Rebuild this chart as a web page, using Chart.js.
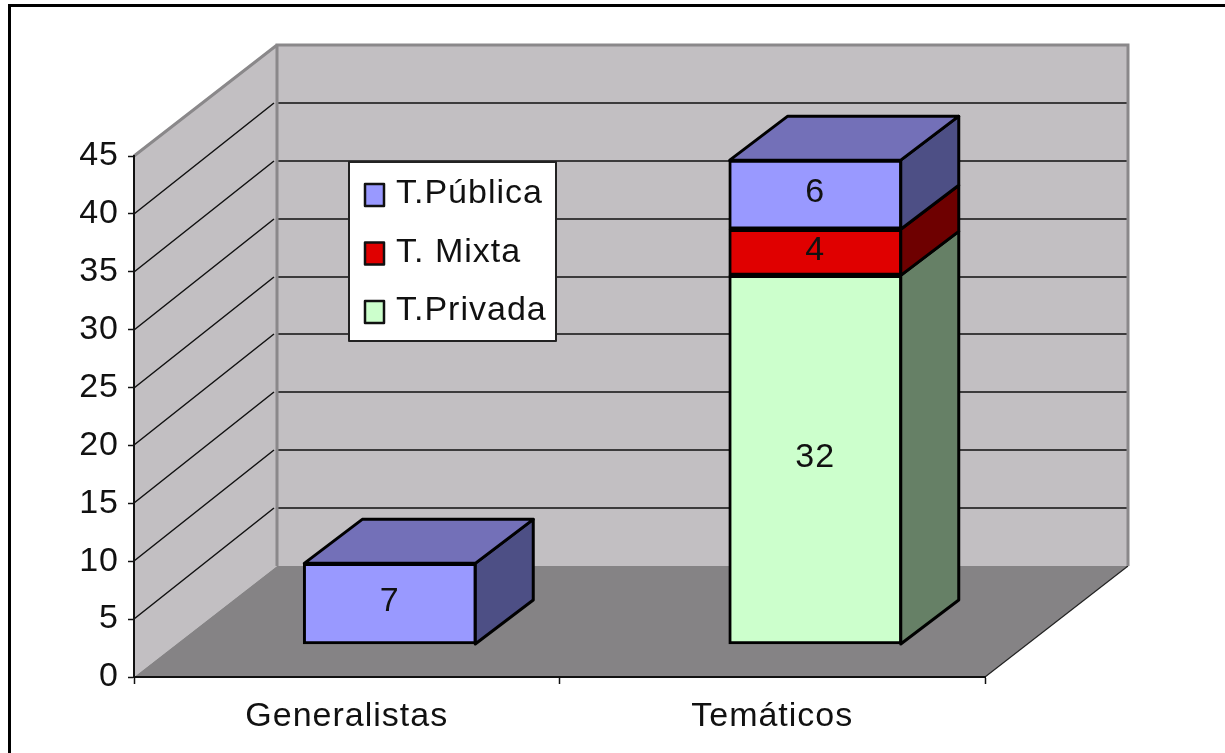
<!DOCTYPE html>
<html>
<head>
<meta charset="utf-8">
<style>
  html, body { margin: 0; padding: 0; background: #fff; }
  canvas { display: block; }
</style>
<script src="https://cdn.jsdelivr.net/npm/chart.js@4/dist/chart.umd.min.js"></script>
</head>
<body>
<canvas id="chart" width="1225" height="753"></canvas>
<script>
"use strict";

const categories = ['Generalistas', 'Temáticos'];
const privada = [0, 32];
const mixta = [0, 4];
const publica = [7, 6];

const FONT = "'Liberation Sans', Arial, sans-serif";
const TEXT = '#111';

// Depth of the fake 3D box and of the bars inside it
const WALL = { dx: 143, dy: -111 };
const BAR = { dx: 58, dy: -44 };

const sideColors = ['#668066', '#6e0000', '#4d4f85'];
const topColors = ['#8fb38f', '#a00000', '#7370b8'];

function poly(ctx, pts, fill, stroke, lw) {
  ctx.beginPath();
  pts.forEach((p, i) => (i ? ctx.lineTo(p[0], p[1]) : ctx.moveTo(p[0], p[1])));
  ctx.closePath();
  if (fill) {
    ctx.fillStyle = fill;
    ctx.fill();
  }
  if (stroke) {
    ctx.strokeStyle = stroke;
    ctx.lineWidth = lw;
    ctx.lineJoin = 'round';
    ctx.stroke();
  }
}

const box3d = {
  id: 'box3d',

  // Walls, floor, gridlines and the outer frame
  beforeDraw(chart) {
    const { ctx, chartArea: a, scales } = chart;
    const { dx, dy } = WALL;
    ctx.letterSpacing = '1px';

    ctx.save();
    ctx.fillStyle = '#000';
    ctx.fillRect(8, 4, chart.width - 8, 3);
    ctx.fillRect(8, 4, 3, chart.height - 4);

    poly(ctx, [[a.left, a.top], [a.left + dx, a.top + dy], [a.left + dx, a.bottom + dy], [a.left, a.bottom]], '#c2bfc2');
    poly(ctx, [[a.left + dx, a.top + dy], [a.right + dx, a.top + dy], [a.right + dx, a.bottom + dy], [a.left + dx, a.bottom + dy]], '#c2bfc2');

    ctx.strokeStyle = '#111';
    ctx.lineWidth = 1.5;
    scales.y.ticks.forEach(t => {
      if (t.value === 0 || t.value === 45) return;
      const y = Math.round(scales.y.getPixelForValue(t.value));
      ctx.beginPath();
      ctx.moveTo(a.left, y);
      ctx.lineTo(a.left + dx - 3, y + dy);
      ctx.moveTo(a.left + dx, y + dy);
      ctx.lineTo(a.right + dx, y + dy);
      ctx.stroke();
    });

    poly(ctx, [[a.left, a.bottom], [a.left + dx, a.bottom + dy], [a.right + dx, a.bottom + dy], [a.right, a.bottom]], '#858385');
    ctx.strokeStyle = '#222';
    ctx.lineWidth = 1.2;
    ctx.beginPath();
    ctx.moveTo(a.right, a.bottom);
    ctx.lineTo(a.right + dx, a.bottom + dy);
    ctx.stroke();

    ctx.strokeStyle = '#8a888a';
    ctx.lineWidth = 3;
    ctx.beginPath();
    ctx.moveTo(a.left + dx, a.bottom + dy);
    ctx.lineTo(a.left + dx, a.top + dy);
    ctx.lineTo(a.right + dx, a.top + dy);
    ctx.lineTo(a.right + dx, a.bottom + dy);
    ctx.moveTo(a.left, a.top);
    ctx.lineTo(a.left + dx, a.top + dy);
    ctx.stroke();
    ctx.restore();
  },

  // Side and top faces of the bars, taken from the bar elements
  beforeDatasetsDraw(chart) {
    const { ctx } = chart;
    const { dx, dy } = BAR;
    ctx.save();
    categories.forEach((c, j) => {
      let topIdx = -1;
      chart.data.datasets.forEach((ds, i) => {
        if (!ds.data[j].y) return;
        const el = chart.getDatasetMeta(i).data[j];
        const r = el.x + el.width / 2 - 1;
        poly(ctx, [[r, el.base], [r + dx, el.base + dy], [r + dx, el.y + dy], [r, el.y]], sideColors[i], '#000', 3);
        topIdx = i;
      });
      if (topIdx < 0) return;
      const el = chart.getDatasetMeta(topIdx).data[j];
      const l = el.x - el.width / 2 + 1;
      const r = el.x + el.width / 2 - 1;
      poly(ctx, [[l, el.y], [l + dx, el.y + dy], [r + dx, el.y + dy], [r, el.y]], topColors[topIdx], '#000', 3);
    });
    ctx.restore();
  },

  // Value labels and the legend box
  afterDatasetsDraw(chart) {
    const { ctx } = chart;
    ctx.save();
    ctx.font = '34px ' + FONT;
    ctx.fillStyle = TEXT;
    ctx.textAlign = 'center';
    ctx.textBaseline = 'middle';
    chart.data.datasets.forEach((ds, i) => {
      ds.data.forEach((d, j) => {
        if (!d.y) return;
        const el = chart.getDatasetMeta(i).data[j];
        ctx.fillText(String(d.y), el.x, (el.y + el.base) / 2 - 2);
      });
    });

    poly(ctx, [[349, 162], [556, 162], [556, 341], [349, 341]], '#fff', '#222', 2);
    ctx.textAlign = 'left';
    ctx.textBaseline = 'alphabetic';
    const order = [2, 1, 0];
    order.forEach((i, row) => {
      const ds = chart.data.datasets[i];
      const top = 184 + row * 58.5;
      poly(ctx, [[365, top], [384, top], [384, top + 22], [365, top + 22]], ds.backgroundColor, '#111', 2.5);
      ctx.fillStyle = TEXT;
      ctx.fillText(ds.label, 396, top + 19);
    });
    ctx.restore();
  },
};

const toPoints = values => values.map((v, i) => ({ x: i, y: v }));

const barDataset = (label, values, color) => ({
  label,
  data: toPoints(values),
  backgroundColor: color,
  borderColor: '#000',
  borderWidth: 3,
  borderSkipped: false,
  barThickness: 173,
  xAxisID: 'xBar',
  yAxisID: 'yBar',
});

new Chart(document.getElementById('chart').getContext('2d'), {
  type: 'bar',
  data: {
    labels: categories,
    datasets: [
      barDataset('T.Privada', privada, '#ccffcc'),
      barDataset('T. Mixta', mixta, '#e00000'),
      barDataset('T.Pública', publica, '#9999ff'),
    ],
  },
  plugins: [box3d],
  options: {
    responsive: false,
    animation: false,
    layout: { padding: { left: 0, right: 240, top: 156, bottom: 0 } },
    plugins: { legend: { display: false }, tooltip: { enabled: false } },
    scales: {
      x: {
        type: 'category',
        offset: true,
        afterFit: s => { s.height = 76; },
        grid: { drawOnChartArea: false, offset: true, color: '#111', tickLength: 7, tickWidth: 1.5 },
        border: { color: '#111', width: 2 },
        ticks: { color: TEXT, font: { family: FONT, size: 34 }, padding: 12, maxRotation: 0 },
      },
      y: {
        min: 0,
        max: 45,
        afterFit: s => { s.width = 134; },
        grid: { drawOnChartArea: false, color: '#111', tickLength: 6, tickWidth: 1.5 },
        border: { color: '#111', width: 2 },
        ticks: { stepSize: 5, color: TEXT, font: { family: FONT, size: 34 }, padding: 9 },
      },
      // Bars stand inside the box, so they sit on their own hidden scales
      xBar: { type: 'linear', display: false, stacked: true, offset: false, min: -0.5 - 43 / 425.5, max: 1.5 - 43 / 425.5 },
      yBar: { type: 'linear', display: false, stacked: true, min: -33 / 11.52, max: 488 / 11.52 },
    },
  },
});
</script>
</body>
</html>
